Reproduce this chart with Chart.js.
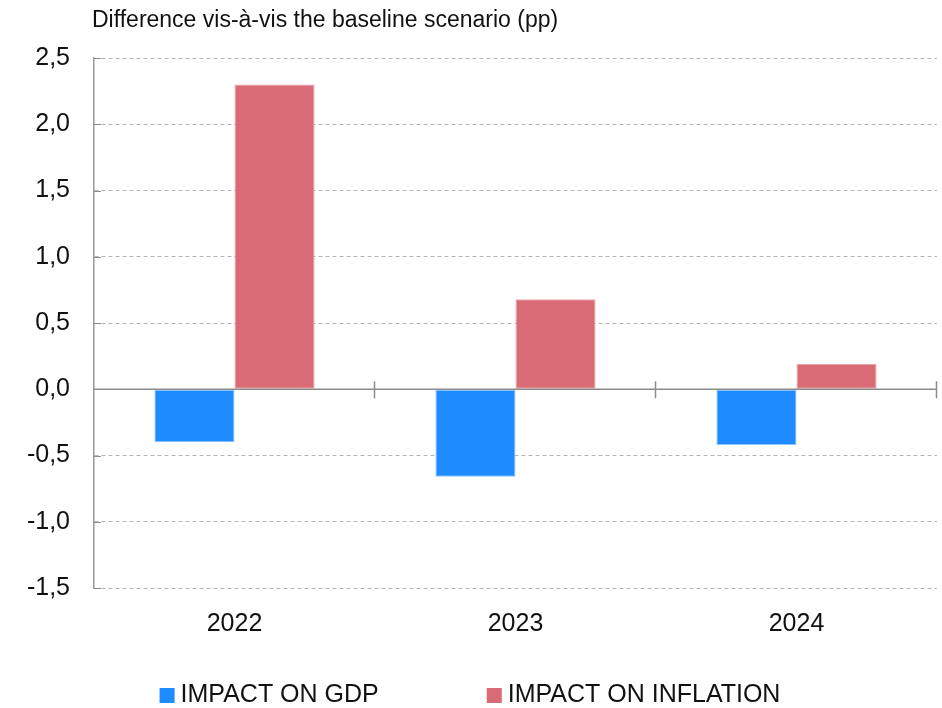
<!DOCTYPE html>
<html>
<head>
<meta charset="utf-8">
<script src="https://cdn.jsdelivr.net/npm/chart.js@4/dist/chart.umd.min.js"></script>
<style>
    html, body { margin: 0; padding: 0; background: #fff; }
    #wrap { position: relative; width: 942px; height: 708px; }
    #title {
        position: absolute; left: 92px; top: 6px;
        font-family: "Liberation Sans", Arial, sans-serif;
        font-size: 23px; color: #111; white-space: nowrap;
    }
    canvas { display: block; }
</style>
</head>
<body>
<div id="wrap">
    <div id="title">Difference vis-à-vis the baseline scenario (pp)</div>
    <canvas id="chart" width="942" height="708"></canvas>
</div>
<script>
const years = ['2022', '2023', '2024'];
const gdpImpact = [-0.40, -0.66, -0.42];
const inflationImpact = [2.30, 0.68, 0.19];
const seriesNames = ['IMPACT ON GDP', 'IMPACT ON INFLATION'];
const yMin = -1.5;
const yMax = 2.5;
const yStep = 0.5;

const FONT = '"Liberation Sans", Arial, sans-serif';

// zero line plus the little ticks on it between categories
const zeroLinePlugin = {
    id: 'zeroLine',
    afterDatasetsDraw(chart) {
        const { ctx, chartArea, scales } = chart;
        const y0 = scales.y.getPixelForValue(0);
        ctx.save();
        ctx.strokeStyle = '#8c8c8c';
        ctx.lineWidth = 1.5;
        ctx.beginPath();
        ctx.moveTo(chartArea.left, y0);
        ctx.lineTo(chartArea.right, y0);
        ctx.stroke();

        const n = chart.data.labels.length;
        const w = (chartArea.right - chartArea.left) / n;
        ctx.beginPath();
        for (let i = 1; i <= n; i++) {
            const x = Math.round(chartArea.left + i * w) - 0.5;
            ctx.moveTo(x, y0 - 8);
            ctx.lineTo(x, y0 + 9);
        }
        ctx.stroke();

        // short inside ticks on the y axis
        ctx.lineWidth = 1;
        ctx.beginPath();
        scales.y.ticks.forEach(t => {
            const y = Math.round(scales.y.getPixelForValue(t.value)) + 0.5;
            ctx.moveTo(chartArea.left, y);
            ctx.lineTo(chartArea.left + 7, y);
        });
        ctx.stroke();
        ctx.restore();
    }
};

// legend drawn by hand: the built-in one ties item spacing to row height
const bottomLegendPlugin = {
    id: 'bottomLegend',
    afterDraw(chart) {
        const { ctx, width, height } = chart;
        const box = 15, gap = 6, between = 108;
        ctx.save();
        ctx.font = '25px ' + FONT;
        ctx.textBaseline = 'middle';
        const items = chart.data.datasets.map(ds => ({
            text: ds.label,
            color: ds.backgroundColor,
            w: box + gap + ctx.measureText(ds.label).width
        }));
        const total = items.reduce((s, it) => s + it.w, 0) + between * (items.length - 1);
        let x = (width - total) / 2 - 1;
        const yc = height - 13;
        items.forEach(it => {
            ctx.fillStyle = it.color;
            ctx.fillRect(x, yc - 7, box, box);
            ctx.fillStyle = '#111';
            ctx.fillText(it.text, x + box + gap, yc);
            x += it.w + between;
        });
        ctx.restore();
    }
};

const ctx = document.getElementById('chart');
new Chart(ctx, {
    type: 'bar',
    data: {
        labels: years,
        datasets: [
            {
                label: seriesNames[0],
                data: gdpImpact,
                backgroundColor: '#1e8cff',
                borderColor: '#8fc6ff',
                borderWidth: 1,
                borderSkipped: false,
                categoryPercentage: 0.57,
                barPercentage: 1.0
            },
            {
                label: seriesNames[1],
                data: inflationImpact,
                backgroundColor: '#d96b77',
                borderColor: '#e9a3ab',
                borderWidth: 1,
                borderSkipped: false,
                categoryPercentage: 0.57,
                barPercentage: 1.0
            }
        ]
    },
    options: {
        responsive: false,
        animation: false,
        layout: { padding: { top: 58, right: 5, left: 0, bottom: 58 } },
        plugins: {
            tooltip: { enabled: false },
            legend: { display: false }
        },
        scales: {
            x: {
                grid: { display: false },
                border: { display: false },
                ticks: {
                    font: { family: FONT, size: 25 },
                    color: '#111',
                    padding: 13
                },
                afterFit(scale) { scale.height = 62; }
            },
            y: {
                min: yMin,
                max: yMax,
                ticks: {
                    stepSize: yStep,
                    font: { family: FONT, size: 25 },
                    color: '#111',
                    padding: 24,
                    callback: v => v.toFixed(1).replace('.', ',')
                },
                grid: {
                    color: '#b4b4b4',
                    lineWidth: 1,
                    drawTicks: false
                },
                border: { display: true, color: '#999', width: 1.5, dash: [4, 3] },
                afterFit(scale) { scale.width = 94; }
            }
        }
    },
    plugins: [zeroLinePlugin, bottomLegendPlugin]
});
</script>
</body>
</html>
